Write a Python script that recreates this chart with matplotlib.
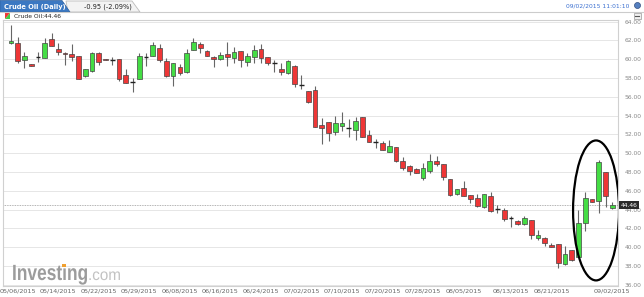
import matplotlib
matplotlib.use("Agg")
import matplotlib.pyplot as plt
from matplotlib.patches import Rectangle, Ellipse, Polygon, Circle, PathPatch
from matplotlib.textpath import TextPath
from matplotlib.font_manager import FontProperties
from matplotlib.transforms import Affine2D

# daily candles, oldest first
opens = [61.70, 61.70, 59.93, 59.47, 60.28, 60.17, 62.13, 61.06, 60.70, 60.56,
         60.35, 58.26, 58.76, 60.64, 60.00, 59.93, 60.03, 58.33, 57.62, 57.94,
         60.21, 60.38, 61.24, 59.82, 58.26, 59.21, 58.62, 60.99, 61.60, 60.88,
         60.28, 60.00, 60.53, 60.10, 60.88, 59.74, 60.21, 61.06, 60.21, 59.64,
         58.94, 58.57, 59.32, 57.22, 56.63, 56.73, 53.00, 53.30, 52.30, 52.90,
         52.66, 52.48, 53.83, 51.95, 51.23, 51.06, 50.17, 50.64, 49.21, 48.68,
         48.33, 47.40, 48.15, 49.21, 48.83, 47.23, 45.67, 46.34, 45.56, 45.21,
         44.26, 45.46, 44.04, 43.97, 43.09, 42.83, 42.45, 42.90, 40.96, 41.02,
         40.24, 40.35, 38.22, 39.71, 39.00, 42.62, 45.11, 44.96, 48.04, 44.20]
highs = [63.65, 62.34, 60.74, 59.55, 60.74, 62.23, 62.77, 61.77, 60.75, 61.63,
         60.40, 58.94, 60.80, 60.74, 60.05, 60.28, 60.05, 58.94, 57.98, 60.64,
         60.64, 61.81, 61.63, 60.17, 59.60, 59.47, 61.06, 62.23, 61.81, 61.00,
         60.30, 60.74, 61.81, 61.28, 60.90, 60.64, 61.52, 61.60, 60.25, 59.93,
         59.57, 59.90, 59.35, 58.33, 56.65, 57.16, 53.72, 53.32, 53.97, 54.36,
         53.62, 53.83, 53.90, 52.48, 51.52, 51.30, 51.41, 50.66, 49.57, 48.75,
         48.40, 48.94, 49.89, 49.71, 48.85, 47.25, 46.20, 47.05, 45.58, 45.67,
         45.65, 45.91, 44.50, 44.15, 43.33, 42.85, 43.33, 42.92, 41.84, 41.10,
         40.43, 40.37, 40.10, 39.75, 43.97, 45.91, 45.13, 49.29, 48.06, 44.85]
lows = [61.60, 59.57, 59.10, 59.25, 59.74, 60.10, 61.40, 60.46, 59.40, 59.85,
        57.90, 58.08, 58.70, 59.40, 59.88, 59.40, 57.69, 57.45, 56.49, 57.85,
        59.32, 60.30, 59.74, 58.15, 57.19, 58.33, 58.55, 60.95, 60.64, 60.30,
        59.21, 59.95, 59.32, 59.64, 59.21, 59.32, 59.57, 59.57, 59.40, 58.68,
        58.33, 58.45, 57.09, 56.87, 55.40, 52.80, 50.96, 51.34, 51.95, 52.40,
        51.77, 51.41, 51.70, 51.20, 50.53, 50.30, 50.12, 49.04, 48.22, 47.69,
        47.85, 47.16, 47.87, 48.70, 47.16, 45.50, 45.60, 45.45, 44.68, 44.33,
        44.20, 43.72, 43.68, 42.80, 42.19, 42.40, 42.40, 40.88, 40.78, 40.17,
        39.98, 37.83, 38.15, 38.50, 38.95, 41.77, 44.77, 43.62, 44.26, 44.10]
closes = [61.95, 59.85, 60.35, 59.29, 60.28, 61.70, 61.45, 60.81, 60.53, 60.21,
          57.94, 58.94, 60.70, 59.68, 59.90, 59.93, 57.94, 57.51, 57.62, 60.35,
          60.21, 61.52, 59.93, 58.26, 59.57, 58.57, 60.64, 61.81, 61.17, 60.38,
          60.00, 60.46, 60.28, 60.81, 59.93, 60.35, 60.99, 60.17, 59.64, 59.64,
          58.68, 59.82, 57.37, 57.22, 55.43, 52.83, 52.72, 52.13, 53.19, 53.26,
          52.66, 53.48, 51.77, 51.23, 51.23, 50.35, 50.81, 49.18, 48.47, 48.12,
          47.87, 48.40, 49.18, 48.90, 47.51, 45.56, 46.17, 45.49, 45.11, 44.39,
          45.63, 43.86, 44.04, 42.98, 43.09, 42.45, 43.09, 41.31, 41.31, 40.43,
          40.00, 38.30, 39.29, 38.65, 42.55, 45.21, 44.79, 49.11, 45.49, 44.46]

date_pos = [1, 7, 13, 19, 25, 31, 37, 43, 49, 55, 61, 67, 74, 80, 89]
date_labels = ["05/06/2015", "05/14/2015", "05/22/2015", "05/29/2015", "06/08/2015",
               "06/16/2015", "06/24/2015", "07/02/2015", "07/10/2015", "07/20/2015",
               "07/28/2015", "08/05/2015", "08/13/2015", "08/21/2015", "09/02/2015"]
price_ticks = [36, 38, 40, 42, 44, 46, 48, 50, 52, 54, 56, 58, 60, 62, 64]
last_price = 44.46
change_text = "-0.95 (-2.09%)"
title_text = "Crude Oil (Daily)"
stamp_text = "09/02/2015 11:01:10"
circled = [84, 85, 86, 87, 88, 89]  # candles ringed at the end

W, H = 644, 297
fig = plt.figure(figsize=(W / 100, H / 100), dpi=100)

ax = fig.add_axes([3 / W, 1 - 286 / H, 615 / W, 266 / H])
ax.set_xlim(-1.18, 89.85)
ax.set_ylim(35.88, 64.18)

up = "#44dd44"
down = "#ee3636"
for i, (o, h, l, c) in enumerate(zip(opens, highs, lows, closes)):
    ax.vlines(i, l, h, color="#666666", lw=0.8, zorder=2)
    if abs(c - o) < 0.03:
        ax.hlines(o, i - 0.35, i + 0.35, color="#222222", lw=1.0, zorder=3)
    else:
        col = up if c > o else down
        ax.add_patch(Rectangle((i - 0.35, min(o, c)), 0.7, abs(c - o),
                               facecolor=col, edgecolor="#444444", lw=0.5, zorder=3))

ax.axhline(last_price, color="#999999", ls=(0, (1, 1)), lw=0.6, zorder=1)

# ring around the last few sessions
xs = circled
hi = max(highs[j] for j in xs)
lo = min(lows[j] for j in xs)
ax.add_patch(Ellipse((sum(xs) / len(xs) + 0.1, (hi + lo) / 2 - 0.2), len(xs) + 0.8,
                     (hi - lo) * 1.44, fill=False, edgecolor="black", lw=1.6, zorder=4))

ax.set_yticks(price_ticks)
ax.set_yticklabels(["%.2f" % v for v in price_ticks])
ax.yaxis.tick_right()
ax.tick_params(axis="y", length=0, pad=5, labelsize=4.3, labelcolor="#888888")
ax.set_xticks(date_pos)
ax.set_xticklabels(date_labels)
ax.tick_params(axis="x", length=0, pad=1.5, labelsize=4.6, labelcolor="#666666")
ax.grid(axis="y", color="#e6e6e6", lw=0.7, zorder=0)
for s in ax.spines.values():
    s.set_color("#d0d0d0")
    s.set_linewidth(0.8)

ax.text(1.004, last_price, "%.2f" % last_price, transform=ax.get_yaxis_transform(),
        ha="left", va="center", fontsize=4.3, color="white",
        bbox=dict(boxstyle="square,pad=0.25", facecolor="#2a2a2a", edgecolor="none"))

# header and watermark in pixel coordinates
ov = fig.add_axes([0, 0, 1, 1], zorder=5)
ov.set_xlim(0, W)
ov.set_ylim(H, 0)
ov.axis("off")
ov.patch.set_alpha(0)

ov.plot([0, W], [12, 12], color="#cccccc", lw=0.8)
ov.add_patch(Polygon([(68, 12), (66, 1), (132, 1), (140, 12)], closed=True,
                     facecolor="#f3f3f3", edgecolor="#bbbbbb", lw=0.6))
ov.add_patch(Polygon([(0, 12), (0, 0.5), (62, 0.5), (70, 12)], closed=True,
                     facecolor="#3b78c2", edgecolor="#2b5f9e", lw=0.5))
ov.text(4, 6.5, title_text, fontsize=4.8, color="white", fontweight="bold",
        ha="left", va="center")
ov.text(84, 6.5, change_text, fontsize=4.8, color="#222222", ha="left", va="center")
ov.text(629, 5.5, stamp_text, fontsize=4.3, color="#3a6fd0", ha="right", va="center")
ov.add_patch(Circle((637.5, 5.5), 3, facecolor="#5580c0", edgecolor="#334f80", lw=0.5))
ov.add_patch(Rectangle((634, 13), 7, 6, facecolor="#f0f0f0", edgecolor="#999999", lw=0.5))
ov.plot([635.5, 639.5], [16, 16], color="#555555", lw=0.8)

ov.add_patch(Polygon([(5, 13), (10, 13), (5, 19)], closed=True, facecolor="#ee3636"))
ov.add_patch(Polygon([(10, 13), (10, 19), (5, 19)], closed=True, facecolor="#44cc44"))
ov.text(14, 16, "Crude Oil:%.2f" % last_price, fontsize=4.3, color="#222222",
        ha="left", va="center")

# watermark: condensed bold word mark
bold = FontProperties(family="Liberation Sans", weight="bold")
reg = FontProperties(family="Liberation Sans")
size = 22.0
word = TextPath((0, 0), "Investing", size=size, prop=bold)
sx = 75.0 / word.get_extents().x1
x0, base = 12.0, 280.0
ov.add_patch(PathPatch(Affine2D().scale(sx, -1).translate(x0, base).transform_path(word),
                       facecolor="#9c9c9c", edgecolor="none"))
pre = TextPath((0, 0), "Investi", size=size, prop=bold).get_extents()
iw = TextPath((0, 0), "i", size=size, prop=bold).get_extents()
dot_x = x0 + (pre.x1 - iw.width / 2 - iw.x0 / 2) * sx
ov.add_patch(Rectangle((dot_x - 2, base - 0.72 * size), 4, 3.3, facecolor="#f0a030",
                       edgecolor="none"))
com = TextPath((0, 0), ".com", size=16, prop=reg)
ov.add_patch(PathPatch(Affine2D().scale(0.95, -1).translate(x0 + 76, base).transform_path(com),
                       facecolor="#c2c2c2", edgecolor="none"))

fig.savefig("out.png", dpi=100)
